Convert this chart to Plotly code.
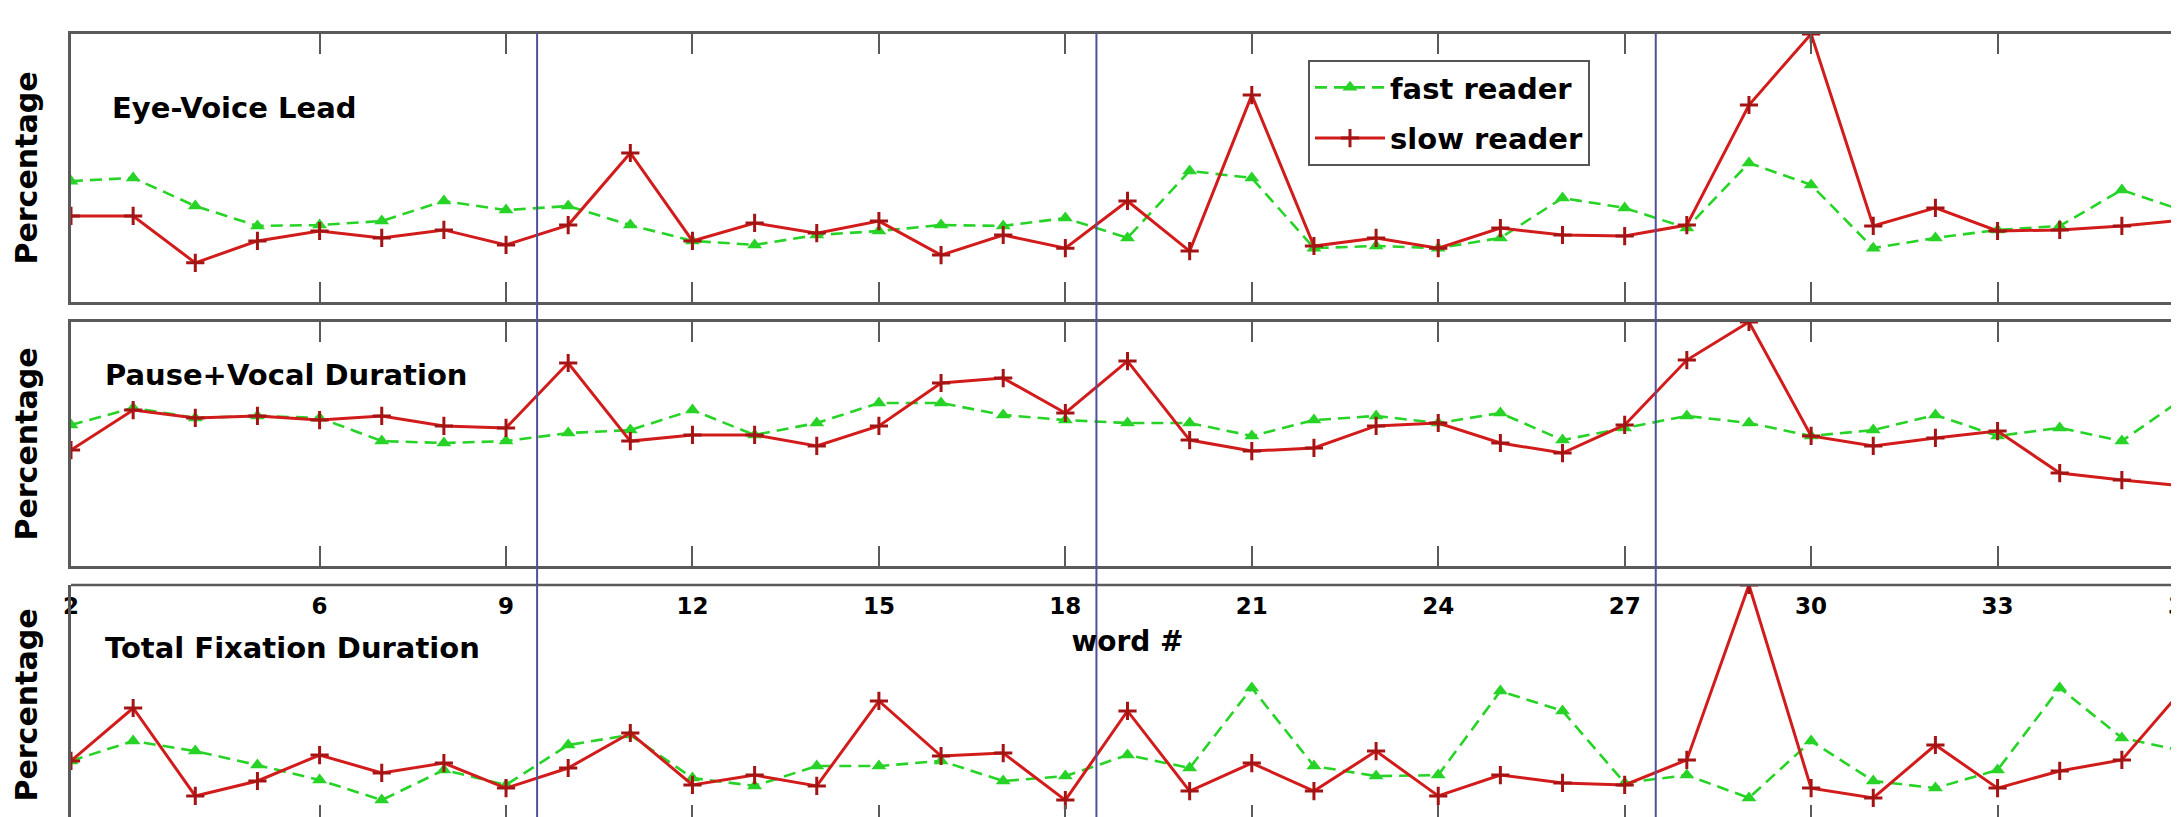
import plotly.graph_objects as go

# ---------------- data ----------------
words = list(range(2, 37))

eye_fast = [45.1, 46.3, 35.8, 28.4, 28.7, 30.2, 37.7, 34.3, 35.8, 28.7, 22.8,
            21.3, 25.0, 26.5, 28.7, 28.4, 31.3, 23.9, 48.9, 46.3, 20.1, 20.9,
            20.1, 23.9, 38.8, 35.1, 27.6, 51.9, 43.7, 20.1, 23.9, 26.9, 28.4, 41.8, 34.0]
eye_slow = [32.1, 32.1, 14.6, 22.8, 26.5, 23.9, 26.9, 21.3, 28.7, 55.6, 22.8,
            29.5, 25.7, 30.2, 17.5, 25.0, 20.1, 37.7, 19.0, 77.2, 20.9, 23.9,
            20.1, 27.6, 25.0, 24.6, 28.7, 73.5, 100.0, 28.4, 35.1, 26.5, 26.9, 28.4, 30.6]

pause_fast = [57.8, 64.8, 60.7, 61.5, 60.7, 51.2, 50.4, 51.2, 54.5, 55.7, 63.9,
              53.7, 58.6, 66.8, 66.8, 61.9, 59.8, 58.6, 58.6, 53.3, 59.8, 61.5,
              58.6, 62.7, 51.6, 56.6, 61.5, 58.6, 53.3, 55.7, 61.9, 53.3, 56.6, 51.2, 68.9]
pause_slow = [47.5, 63.9, 60.7, 61.5, 59.8, 61.5, 57.4, 56.6, 83.2, 51.2, 53.7,
              53.7, 49.2, 57.4, 75.0, 77.0, 62.7, 84.0, 51.6, 47.1, 48.4, 57.4,
              58.6, 50.4, 46.3, 57.8, 84.4, 100.0, 53.3, 49.2, 52.5, 55.3, 38.1, 35.2, 32.8]

fix_fast = [28.2, 36.3, 32.2, 26.5, 20.4, 12.2, 24.5, 18.4, 34.7, 38.8, 21.2,
            18.0, 26.1, 26.1, 28.2, 20.0, 22.0, 30.6, 25.3, 58.0, 26.1, 22.0,
            22.4, 56.7, 48.6, 19.2, 22.4, 13.1, 36.3, 20.0, 17.1, 24.5, 58.0, 37.6, 32.2]
fix_slow = [28.2, 49.8, 13.9, 20.0, 30.6, 23.3, 27.3, 17.1, 25.3, 39.6, 18.4,
            22.4, 18.0, 52.7, 30.2, 31.4, 12.2, 48.6, 15.9, 27.3, 15.9, 32.2,
            13.9, 22.4, 19.2, 18.4, 28.6, 100.0, 17.1, 13.1, 34.7, 17.1, 24.1, 28.6, 58.0]

panel_titles = ["Eye-Voice Lead", "Pause+Vocal Duration", "Total Fixation Duration"]
series_names = ["fast reader", "slow reader"]
tick_vals = [2, 6, 9, 12, 15, 18, 21, 24, 27, 30, 33, 36]
tick_text = ["2", "6", "9", "12", "15", "18", "21", "24", "27", "30", "33", "36"]
boundaries = [9.5, 18.5, 27.5]
x_title = "word #"
y_title = "Percentage"

# ---------------- styling ----------------
W, H = 2179, 817
GREEN = "#26d326"
RED = "#d21c1c"
RED_MK = "#a51414"
AX = "#5a5a5a"
BLUE = "#50509a"
FONT = "DejaVu Sans"

dom = [
    [1 - 294 / H, 1 - 26 / H],
    [1 - 558 / H, 1 - 314 / H],
    [0.0, 1 - 577 / H],
]
yranges = [[0, 100], [0, 100], [(822 - 817) / 2.45, 100]]

fig = go.Figure()
panels = [(eye_fast, eye_slow), (pause_fast, pause_slow), (fix_fast, fix_slow)]
for i, (fast, slow) in enumerate(panels):
    xa = "x" if i == 0 else f"x{i+1}"
    ya = "y" if i == 0 else f"y{i+1}"
    fig.add_trace(go.Scatter(
        x=words, y=fast, mode="lines+markers", name=series_names[0],
        xaxis=xa, yaxis=ya, showlegend=(i == 0), legendgroup="a",
        line=dict(color=GREEN, width=2.6, dash="12px,7px"),
        marker=dict(symbol="triangle-up", size=13, color=GREEN),
    ))
    fig.add_trace(go.Scatter(
        x=words, y=slow, mode="lines+markers", name=series_names[1],
        xaxis=xa, yaxis=ya, showlegend=(i == 0), legendgroup="b",
        line=dict(color=RED, width=3),
        marker=dict(symbol="cross-thin", size=13, color=RED_MK,
                    line=dict(color=RED_MK, width=3)),
    ))

layout = dict(
    width=W, height=H, template="none",
    paper_bgcolor="white", plot_bgcolor="white",
    margin=dict(l=63, r=3, t=0, b=0),
    font=dict(family=FONT, size=24, color="black"),
    legend=dict(
        x=(1300 - 63) / 2113, y=1 - 52 / H, xanchor="left", yanchor="top",
        bgcolor="white", bordercolor="#555", borderwidth=2,
        font=dict(family=FONT, size=29, color="black", weight="bold"),
        itemwidth=70, tracegroupgap=10, traceorder="grouped",
    ),
)

for i in range(3):
    xkey = "xaxis" if i == 0 else f"xaxis{i+1}"
    ykey = "yaxis" if i == 0 else f"yaxis{i+1}"
    anchor_y = "y" if i == 0 else f"y{i+1}"
    anchor_x = "x" if i == 0 else f"x{i+1}"
    xa = dict(
        domain=[0, 1], anchor=anchor_y, range=[2, 36],
        tickmode="array", tickvals=tick_vals, ticktext=tick_text,
        ticks="inside", ticklen=20, tickwidth=2, tickcolor=AX,
        showgrid=False, zeroline=False,
        showline=(i < 2), linecolor=AX, linewidth=2.5,
        mirror=("ticks" if i < 2 else False),
        showticklabels=(i == 1),
    )
    if i != 0:
        xa["matches"] = "x"
    if i == 1:
        xa.update(
            tickfont=dict(family=FONT, size=23, color="black", weight="bold"),
            ticklabelstandoff=18, ticklabeloverflow="allow",
            title=dict(text=x_title, standoff=14,
                       font=dict(family=FONT, size=28, color="black", weight="bold")),
        )
    layout[xkey] = xa
    layout[ykey] = dict(
        domain=dom[i], anchor=anchor_x, range=yranges[i],
        showticklabels=False, ticks="", showgrid=False, zeroline=False,
        showline=True, linecolor=AX, linewidth=2.5, mirror=True,
        title=dict(text=y_title, standoff=22,
                   font=dict(family=FONT, size=30, color="black", weight="bold")),
    )

fig.update_layout(**layout)

# panel titles
title_pos = [(102, 100), (95, 367), (95, 640)]
for txt, (px, py) in zip(panel_titles, title_pos):
    fig.add_annotation(
        text=txt, xref="paper", yref="paper",
        x=(px - 63) / 2113, y=1 - py / H, xanchor="left", yanchor="middle",
        showarrow=False,
        font=dict(family=FONT, size=29, color="black", weight="bold"),
    )

# top border line of third panel (style only)
fig.add_shape(type="line", xref="paper", yref="paper",
              x0=0, x1=1, y0=dom[2][1], y1=dom[2][1],
              line=dict(color=AX, width=2.5), layer="above")

# sentence boundary lines
for b in boundaries:
    fig.add_shape(type="line", xref="x", yref="paper",
                  x0=b, x1=b, y0=0, y1=dom[0][1],
                  line=dict(color=BLUE, width=2), layer="above")

fig.write_html("out.html")
